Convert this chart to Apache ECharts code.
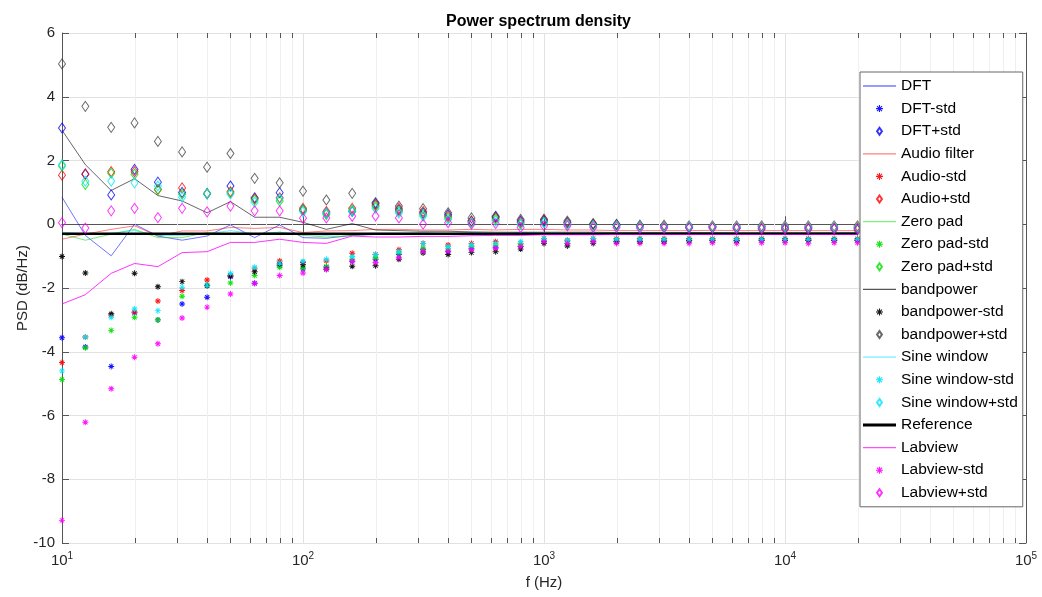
<!DOCTYPE html>
<html><head><meta charset="utf-8">
<script src="https://cdn.jsdelivr.net/npm/echarts@6/dist/echarts.min.js"></script>
<style>html,body{margin:0;padding:0;background:#fff}#c{width:1042px;height:597px}</style>
</head><body><div id="c"></div>
<script>
const freq = [10,12.5,16,20,25,31.5,40,50,63,80,100,125,160,200,250,315,400,500,630,800,1000,1250,1600,2000,2500,3150,4000,5000,6300,8000,10000,12500,16000,20000];

const dft     = [0.85,-0.35,-0.99,0.0,-0.37,-0.5,-0.37,-0.02,-0.42,-0.02,-0.42,-0.44,-0.35,-0.32,-0.3,-0.28,-0.3,-0.27,-0.3,-0.27,-0.29,-0.3,-0.28,-0.29,-0.28,-0.29,-0.28,-0.28,-0.29,-0.28,-0.28,-0.29,-0.28,-0.28];
const dftLo   = [-3.56,-3.85,-4.46,-2.78,-3.0,-2.5,-2.29,-1.65,-1.85,-1.3,-1.4,-1.35,-1.15,-1.1,-0.95,-0.8,-0.85,-0.75,-0.72,-0.7,-0.55,-0.6,-0.55,-0.55,-0.55,-0.52,-0.52,-0.5,-0.52,-0.5,-0.5,-0.5,-0.5,-0.5];
const dftHi   = [3.02,1.57,0.92,1.72,1.32,1.0,0.96,1.2,0.83,0.99,0.45,0.35,0.4,0.65,0.45,0.35,0.3,0.1,0.25,0.1,0.1,0.05,0.0,-0.02,-0.05,-0.05,-0.08,-0.08,-0.1,-0.08,-0.1,-0.1,-0.1,-0.12];

const audio   = [-0.47,-0.31,-0.16,-0.05,-0.37,-0.21,-0.21,-0.1,-0.13,-0.1,-0.26,-0.21,-0.2,-0.16,-0.16,-0.18,-0.18,-0.16,-0.18,-0.16,-0.16,-0.18,-0.18,-0.2,-0.2,-0.2,-0.2,-0.19,-0.2,-0.2,-0.2,-0.2,-0.2,-0.2];
const audioLo = [-4.34,-3.54,-2.85,-2.75,-2.41,-2.08,-1.75,-1.6,-1.4,-1.15,-1.2,-1.15,-0.91,-0.95,-0.8,-0.6,-0.65,-0.6,-0.55,-0.6,-0.45,-0.5,-0.45,-0.45,-0.45,-0.45,-0.45,-0.45,-0.45,-0.45,-0.45,-0.45,-0.45,-0.45];
const audioHi = [1.54,1.58,1.65,1.65,1.09,1.14,0.96,1.02,0.8,0.83,0.5,0.4,0.5,0.6,0.5,0.4,0.25,0.1,0.2,0.05,0.15,0.05,0.0,-0.02,-0.03,-0.03,-0.05,-0.05,-0.05,-0.05,-0.05,-0.05,-0.05,-0.05];

const zero    = [-0.31,-0.5,-0.31,-0.16,-0.42,-0.42,-0.26,-0.3,-0.3,-0.25,-0.35,-0.4,-0.35,-0.3,-0.3,-0.3,-0.29,-0.28,-0.29,-0.28,-0.28,-0.28,-0.28,-0.27,-0.27,-0.27,-0.27,-0.27,-0.27,-0.27,-0.27,-0.27,-0.27,-0.27];
const zeroLo  = [-4.87,-3.88,-3.33,-2.92,-3.0,-2.26,-1.91,-1.84,-1.61,-1.35,-1.37,-1.32,-1.1,-1.05,-0.9,-0.75,-0.75,-0.7,-0.65,-0.65,-0.5,-0.55,-0.5,-0.5,-0.5,-0.5,-0.5,-0.5,-0.5,-0.5,-0.5,-0.5,-0.5,-0.5];
const zeroHi  = [1.83,1.25,1.6,1.57,1.09,0.94,0.96,0.98,0.76,0.73,0.45,0.3,0.45,0.55,0.4,0.3,0.2,0.05,0.15,0.0,0.05,0.0,-0.05,-0.05,-0.06,-0.06,-0.07,-0.07,-0.08,-0.08,-0.08,-0.08,-0.08,-0.08];

const band    = [2.95,1.87,1.06,1.43,0.9,0.73,0.36,0.71,0.22,0.22,0.06,-0.16,0.02,-0.18,-0.2,-0.22,-0.22,-0.24,-0.25,-0.25,-0.25,-0.25,-0.25,-0.26,-0.26,-0.26,-0.26,-0.26,-0.27,-0.27,-0.27,-0.27,-0.27,-0.27];
const bandLo  = [-1.01,-1.53,-2.81,-1.54,-1.96,-1.8,-1.93,-1.62,-1.49,-1.25,-1.27,-1.41,-1.32,-1.3,-1.1,-0.9,-0.95,-0.89,-0.86,-0.78,-0.6,-0.68,-0.6,-0.55,-0.55,-0.55,-0.52,-0.52,-0.52,-0.5,-0.5,-0.5,-0.5,-0.5];
const bandHi  = [5.03,3.70,3.04,3.18,2.60,2.27,1.79,2.22,1.44,1.30,1.04,0.76,0.97,0.68,0.57,0.49,0.36,0.2,0.23,0.15,0.15,0.1,0.02,0.0,-0.05,-0.08,-0.1,-0.1,-0.13,-0.15,-0.15,-0.15,-0.15,-0.18];

const sine    = [-0.25,-0.3,-0.28,-0.2,-0.35,-0.35,-0.3,-0.2,-0.3,-0.25,-0.32,-0.35,-0.3,-0.28,-0.28,-0.27,-0.28,-0.27,-0.27,-0.27,-0.27,-0.27,-0.27,-0.27,-0.27,-0.27,-0.27,-0.27,-0.27,-0.27,-0.27,-0.27,-0.27,-0.27];
const sineLo  = [-4.6,-3.54,-2.92,-2.66,-2.71,-1.98,-1.91,-1.54,-1.35,-1.22,-1.17,-1.1,-1.01,-0.95,-0.85,-0.6,-0.7,-0.65,-0.6,-0.55,-0.45,-0.5,-0.45,-0.47,-0.47,-0.47,-0.47,-0.47,-0.47,-0.47,-0.47,-0.47,-0.47,-0.47];
const sineHi  = [1.87,1.35,1.35,1.3,1.2,0.85,0.96,0.95,0.69,0.8,0.39,0.35,0.4,0.5,0.35,0.25,0.15,0.05,0.1,0.0,0.05,0.0,-0.05,-0.05,-0.06,-0.07,-0.07,-0.08,-0.08,-0.08,-0.08,-0.08,-0.08,-0.1];

const reference = [-0.3,-0.3,-0.3,-0.3,-0.3,-0.3,-0.3,-0.3,-0.3,-0.3,-0.3,-0.3,-0.3,-0.3,-0.3,-0.3,-0.3,-0.3,-0.3,-0.3,-0.3,-0.3,-0.3,-0.3,-0.3,-0.3,-0.3,-0.3,-0.3,-0.3,-0.3,-0.3,-0.3,-0.3];

const lab     = [-2.5,-2.21,-1.54,-1.23,-1.33,-0.89,-0.86,-0.57,-0.57,-0.47,-0.57,-0.6,-0.37,-0.4,-0.4,-0.38,-0.38,-0.36,-0.35,-0.35,-0.33,-0.33,-0.33,-0.32,-0.32,-0.32,-0.32,-0.32,-0.32,-0.32,-0.32,-0.32,-0.32,-0.32];
const labLo   = [-9.29,-6.21,-5.16,-4.17,-3.75,-2.94,-2.6,-2.19,-1.85,-1.61,-1.53,-1.41,-1.17,-1.2,-1.05,-0.85,-0.85,-0.8,-0.75,-0.7,-0.55,-0.6,-0.55,-0.6,-0.6,-0.6,-0.6,-0.58,-0.6,-0.58,-0.58,-0.6,-0.58,-0.58];
const labHi   = [0.05,-0.12,0.42,0.5,0.21,0.5,0.39,0.57,0.42,0.42,0.19,0.2,0.25,0.26,0.2,0.0,0.05,0.0,0.02,-0.1,-0.05,-0.05,-0.1,-0.1,-0.12,-0.12,-0.12,-0.12,-0.13,-0.13,-0.13,-0.13,-0.13,-0.13];

const yTicks = [-10,-8,-6,-4,-2,0,2,4,6];
const xMinorTicks = [20,30,40,50,60,70,80,90,200,300,400,500,600,700,800,900,2000,3000,4000,5000,6000,7000,8000,9000,20000,30000,40000,50000,60000,70000,80000,90000];

const FONT = '"Liberation Sans", Arial, Helvetica, sans-serif';
const STAR = 'path://M-5,-0.8L5,-0.8L5,0.8L-5,0.8Z M-0.8,-5L0.8,-5L0.8,5L-0.8,5Z M-2.94,-4.06L4.06,2.94L2.94,4.06L-4.06,-2.94Z M2.94,-4.06L4.06,-2.94L-2.94,4.06L-4.06,2.94Z';
const DIAMOND = 'path://M0,-5L3.5,0L0,5L-3.5,0Z';
const LINE_ICON = 'path://M0,0L100,0L100,4L0,4Z';
const THICK_ICON = 'path://M0,0L100,0L100,9L0,9Z';

const pts = arr => freq.map((f, i) => [f, arr[i]]);
const legendData = [];
const lineS = (name, arr, color, width, opacity, legendColor) => {
  legendData.push({ name, icon: width > 2 ? THICK_ICON : LINE_ICON,
    itemStyle: { color: legendColor, borderWidth: 0, opacity: 1 } });
  return { type: 'line', name, data: pts(arr), symbol: 'none', showSymbol: false,
    lineStyle: { color, width, opacity }, itemStyle: { color: legendColor }, z: 3, silent: true };
};
const starS = (name, arr, color) => {
  legendData.push({ name });
  return { type: 'scatter', name, data: pts(arr), symbol: STAR, symbolSize: 6,
    itemStyle: { color, opacity: 0.9 }, z: 4, silent: true };
};
const diaS = (name, arr, color) => {
  legendData.push({ name });
  return { type: 'scatter', name, data: pts(arr), symbol: DIAMOND, symbolSize: [7, 10],
    itemStyle: { color: 'rgba(255,255,255,0)', borderColor: color, borderWidth: 1 }, z: 4, silent: true };
};

const series = [
  { type: 'custom', name: 'minor', silent: true, z: 1, clip: false,
    data: xMinorTicks.map(v => [v, 0]), encode: { x: 0, y: 1 },
    renderItem: (params, api) => {
      const t = api.coord([api.value(0), 6]);
      const b = api.coord([api.value(0), -10]);
      const x = Math.round(t[0]) + 0.5;
      return { type: 'group', children: [
        { type: 'line', shape: { x1: x, y1: t[1], x2: x, y2: b[1] }, style: { stroke: '#efefef', lineWidth: 1 } },
        { type: 'line', shape: { x1: x, y1: b[1], x2: x, y2: b[1] - 5 }, style: { stroke: '#555', lineWidth: 1 } },
        { type: 'line', shape: { x1: x, y1: t[1], x2: x, y2: t[1] + 5 }, style: { stroke: '#555', lineWidth: 1 } }
      ]};
    }
  },
  lineS('DFT', dft, '#0000ff', 1, 0.55, '#7a7aff'),
  starS('DFT-std', dftLo, '#0000ff'),
  diaS('DFT+std', dftHi, '#0000ff'),
  lineS('Audio filter', audio, '#ff0000', 1, 0.5, '#ff8080'),
  starS('Audio-std', audioLo, '#ff0000'),
  diaS('Audio+std', audioHi, '#ff0000'),
  lineS('Zero pad', zero, '#00dd00', 1, 0.55, '#80f080'),
  starS('Zero pad-std', zeroLo, '#00e000'),
  diaS('Zero pad+std', zeroHi, '#00e000'),
  lineS('bandpower', band, '#000000', 1, 0.6, '#555555'),
  starS('bandpower-std', bandLo, '#000000'),
  diaS('bandpower+std', bandHi, '#444444'),
  lineS('Sine window', sine, '#00e5ff', 1, 0.6, '#70f0ff'),
  starS('Sine window-std', sineLo, '#00e5ff'),
  diaS('Sine window+std', sineHi, '#00e5ff'),
  lineS('Reference', reference, '#000000', 2.5, 1, '#000000'),
  lineS('Labview', lab, '#ff00ff', 1, 0.8, '#ff50ff'),
  starS('Labview-std', labLo, '#ff00ff'),
  diaS('Labview+std', labHi, '#ff00ff')
];

const chart = echarts.init(document.getElementById('c'), null, { renderer: 'canvas' });
chart.setOption({
  animation: false,
  backgroundColor: '#ffffff',
  textStyle: { fontFamily: FONT },
  title: {
    text: 'Power spectrum density', left: 441, top: 9,
    textStyle: { fontFamily: FONT, fontSize: 16, fontWeight: 'bold', color: '#000' }
  },
  grid: { left: 62, right: 16, top: 33, bottom: 54, containLabel: false },
  legend: {
    data: legendData, orient: 'vertical', left: 860, top: 72,
    padding: [6, 5, 6, 3], itemWidth: 33, itemHeight: 7, itemGap: 6.6,
    symbolKeepAspect: true,
    backgroundColor: '#ffffff', borderColor: '#666', borderWidth: 1, borderRadius: 0,
    selectedMode: false, z: 10,
    textStyle: { fontFamily: FONT, fontSize: 15.5, color: '#000', lineHeight: 16 }
  },
  xAxis: [
    { type: 'log', logBase: 10, min: 10, max: 100000, position: 'bottom',
      name: 'f (Hz)', nameLocation: 'middle', nameGap: 32, nameMoveOverlap: false,
      nameTextStyle: { fontFamily: FONT, fontSize: 15, color: '#262626' },
      axisLine: { lineStyle: { color: '#555', width: 1 } },
      axisTick: { inside: true, length: 8, lineStyle: { color: '#555' } },
      splitLine: { show: true, lineStyle: { color: '#e2e2e2', width: 1 } },
      axisLabel: { margin: 8, color: '#262626', fontSize: 15, fontFamily: FONT,
        formatter: v => '10{s|' + Math.round(Math.log10(v)) + '}',
        rich: { s: { fontSize: 10, padding: [0, 0, 9, 0], color: '#262626', fontFamily: FONT } } }
    },
    { type: 'log', logBase: 10, min: 10, max: 100000, position: 'top',
      axisLine: { lineStyle: { color: '#555', width: 1 } },
      axisTick: { inside: true, length: 8, lineStyle: { color: '#555' } },
      axisLabel: { show: false }, splitLine: { show: false } }
  ],
  yAxis: [
    { type: 'value', min: -10, max: 6, interval: 2, position: 'left',
      name: 'PSD (dB/Hz)', nameLocation: 'middle', nameGap: 32, nameMoveOverlap: false,
      nameTextStyle: { fontFamily: FONT, fontSize: 15, color: '#262626' },
      axisLine: { show: true, lineStyle: { color: '#555', width: 1 } },
      axisTick: { show: true, inside: true, length: 7, lineStyle: { color: '#555' } },
      splitLine: { show: true, lineStyle: { color: '#e2e2e2', width: 1 } },
      axisLabel: { margin: 7, color: '#262626', fontSize: 15, fontFamily: FONT,
        formatter: v => (yTicks.indexOf(v) >= 0 ? String(v) : '') }
    },
    { type: 'value', min: -10, max: 6, interval: 2, position: 'right',
      axisLine: { show: true, lineStyle: { color: '#555', width: 1 } },
      axisTick: { show: true, inside: true, length: 7, lineStyle: { color: '#555' } },
      axisLabel: { show: false }, splitLine: { show: false } }
  ],
  series: series
});
</script>
</body></html>
